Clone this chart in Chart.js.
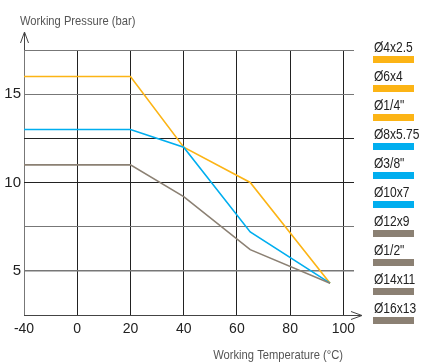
<!DOCTYPE html>
<html>
<head>
<meta charset="utf-8">
<script src="https://cdn.jsdelivr.net/npm/chart.js@4"></script>
<style>
  html, body { margin: 0; padding: 0; background: #fff; }
  #wrap { width: 422px; height: 364px; }
</style>
</head>
<body>
<div id="wrap"><canvas id="pressureChart"></canvas></div>
<script>
const temperature = [-40, 20, 40, 65, 95];
const pressureOrange = [16, 16, 12, 10, 4.3];
const pressureBlue = [13, 13, 12, 7.2, 4.3];
const pressureGray = [11, 11, 9.2, 6.2, 4.3];
const seriesColors = ["#fcb415", "#00aeef", "#8b8073"];
const xTicks = [-40, 0, 20, 40, 60, 80, 100];
const legendLabels = ["Ø4x2.5", "Ø6x4", "Ø1/4\"", "Ø8x5.75", "Ø3/8\"", "Ø10x7", "Ø12x9", "Ø1/2\"", "Ø14x11", "Ø16x13"];
const legendSeries = [0, 0, 0, 1, 1, 1, 2, 2, 2, 2];

const sans = "'Liberation Sans', Arial, sans-serif";

// the -40..0 stretch is drawn at half scale on the original
function toAxis(t) {
  return t < 0 ? t / 2 : t;
}
function fromAxis(v) {
  return v < 0 ? v * 2 : v;
}

function makeSet(values, color) {
  return {
    data: temperature.map((t, i) => ({ x: toAxis(t), y: values[i] })),
    borderColor: color,
    borderWidth: 1.6,
    pointRadius: 0,
    fill: false,
    tension: 0,
  };
}

// condensed look: squeeze text horizontally
function narrowText(ctx, text, x, y, align) {
  const k = 0.86;
  ctx.save();
  ctx.translate(x, y);
  ctx.scale(k, 1);
  ctx.textAlign = align;
  ctx.fillText(text, 0, 0);
  ctx.restore();
}

const extras = {
  id: "extras",
  afterDraw(chart) {
    const ctx = chart.ctx;
    const area = chart.chartArea;
    ctx.save();
    // axis arrows
    ctx.strokeStyle = "#444";
    ctx.lineWidth = 1;
    ctx.beginPath();
    ctx.moveTo(area.left + 0.5, area.top);
    ctx.lineTo(area.left + 0.5, 33);
    ctx.moveTo(area.left - 3.5, 43);
    ctx.lineTo(area.left + 0.5, 32);
    ctx.lineTo(area.left + 4.5, 43);
    ctx.moveTo(area.right, area.bottom + 0.5);
    ctx.lineTo(361, area.bottom + 0.5);
    ctx.moveTo(351, area.bottom - 3.5);
    ctx.lineTo(362, area.bottom + 0.5);
    ctx.lineTo(351, area.bottom + 4.5);
    ctx.stroke();

    // axis titles
    ctx.fillStyle = "#555";
    ctx.font = "13px " + sans;
    ctx.textBaseline = "alphabetic";
    narrowText(ctx, "Working Pressure (bar)", 20, 25, "left");
    narrowText(ctx, "Working Temperature (°C)", 343, 359, "right");

    // legend
    ctx.font = "14px " + sans;
    legendLabels.forEach((label, i) => {
      const top = 56 + i * 29;
      ctx.fillStyle = "#222";
      narrowText(ctx, label, 374, top - 4, "left");
      ctx.fillStyle = seriesColors[legendSeries[i]];
      ctx.fillRect(373, top, 41, 7);
    });
    ctx.restore();
  },
};

const chart = new Chart(document.getElementById("pressureChart"), {
  type: "line",
  data: {
    datasets: [
      makeSet(pressureGray, seriesColors[2]),
      makeSet(pressureBlue, seriesColors[1]),
      makeSet(pressureOrange, seriesColors[0]),
    ],
  },
  options: {
    responsive: true,
    maintainAspectRatio: false,
    animation: false,
    layout: {
      padding: { top: 50, right: 68, left: 0, bottom: 0 },
    },
    plugins: {
      legend: { display: false },
      tooltip: { enabled: false },
    },
    scales: {
      x: {
        type: "linear",
        min: -20,
        max: 104,
        afterBuildTicks: (scale) => {
          scale.ticks = xTicks.map((t) => ({ value: toAxis(t) }));
        },
        afterFit: (scale) => {
          scale.height = 49;
        },
        border: { display: false },
        grid: {
          drawTicks: false,
          color: (c) => (c.index === 0 ? "#777" : "#222"),
          lineWidth: 1,
        },
        ticks: {
          padding: 6,
          color: "#222",
          font: { family: sans, size: 14 },
          callback: (v) => String(fromAxis(v)),
        },
      },
      y: {
        min: 2.5,
        max: 17.5,
        afterFit: (scale) => {
          scale.width = 24;
        },
        border: { display: false },
        grid: {
          drawTicks: false,
          color: (c) => {
            const v = c.tick.value;
            if (v === 12.5 || v === 10) return "#222";
            if (v === 2.5) return "#444";
            return "#777";
          },
          lineWidth: (c) => (c.tick.value === 5 ? 1.5 : 1),
        },
        ticks: {
          stepSize: 2.5,
          padding: 3,
          color: "#222",
          font: { family: sans, size: 15 },
          callback: (v) => (v % 5 === 0 ? String(v) : ""),
        },
      },
    },
  },
  plugins: [extras],
});
</script>
</body>
</html>
